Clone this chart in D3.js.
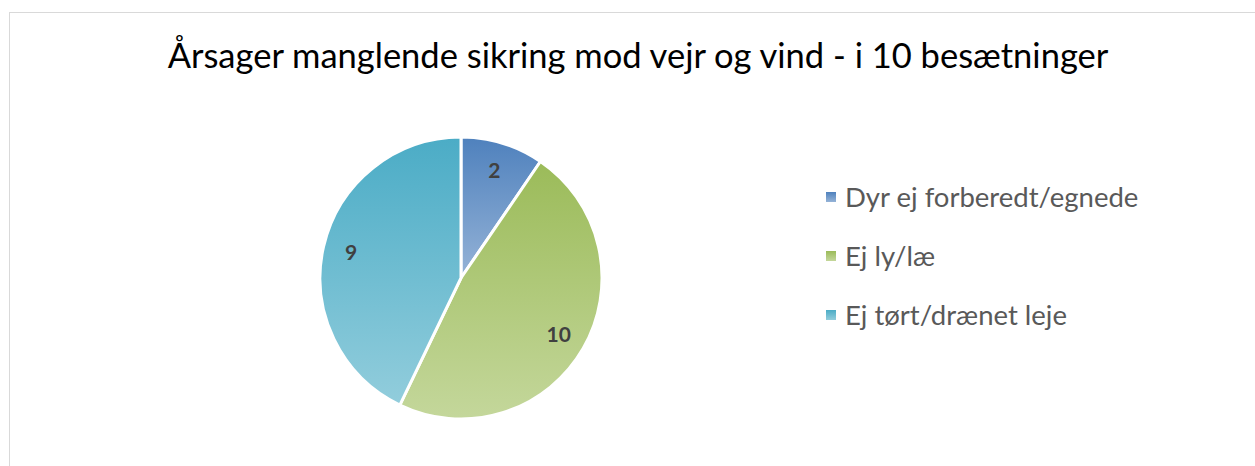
<!DOCTYPE html>
<html>
<head>
<meta charset="utf-8">
<script src="https://cdn.jsdelivr.net/npm/d3@7"></script>
<style>
  body { margin: 0; background: #fff; }
  text { font-family: Lato, "Open Sans", sans-serif; }
</style>
</head>
<body>
<div class="graph"></div>
<script>
var title = "Årsager manglende sikring mod vejr og vind - i 10 besætninger";
var categories = ["Dyr ej forberedt/egnede", "Ej ly/læ", "Ej tørt/drænet leje"];
var values = [2, 10, 9];
var topColors = ["#4f81bd", "#9bbb59", "#4bacc6"];
var bottomColors = ["#95b3d7", "#c4d79b", "#92cddc"];

var width = 1255, height = 466;
var cx = 461, cy = 278, radius = 141;

var svg = d3.select(".graph").append("svg")
    .attr("width", width)
    .attr("height", height);

// chart frame
svg.append("rect")
    .attr("x", 9.5).attr("y", 12.5)
    .attr("width", 1260).attr("height", 470)
    .attr("fill", "#fff")
    .attr("stroke", "#d9d9d9");

svg.append("text")
    .attr("x", 638)
    .attr("y", 68)
    .attr("text-anchor", "middle")
    .style("font-size", "34.5px")
    .style("fill", "#000")
    .text(title);

var defs = svg.append("defs");
categories.forEach(function(c, i) {
  var g = defs.append("linearGradient")
      .attr("id", "grad" + i)
      .attr("x1", 0).attr("y1", 0).attr("x2", 0).attr("y2", 1);
  g.append("stop").attr("offset", "0%").attr("stop-color", topColors[i]);
  g.append("stop").attr("offset", "100%").attr("stop-color", bottomColors[i]);
});

var pie = d3.pie().sort(null).value(function(d) { return d; });
var arc = d3.arc().innerRadius(0).outerRadius(radius);
var labelArc = d3.arc().innerRadius(radius * 0.8).outerRadius(radius * 0.8);

var g = svg.append("g")
    .attr("transform", "translate(" + cx + "," + cy + ")");

g.selectAll(".slice")
    .data(pie(values))
  .enter().append("path")
    .attr("class", "slice")
    .attr("d", arc)
    .attr("fill", function(d, i) { return "url(#grad" + i + ")"; })
    .attr("stroke", "#fff")
    .attr("stroke-width", 3);

g.selectAll(".lbl")
    .data(pie(values))
  .enter().append("text")
    .attr("class", "lbl")
    .attr("transform", function(d) { return "translate(" + labelArc.centroid(d) + ")"; })
    .attr("text-anchor", "middle")
    .attr("dy", ".35em")
    .style("font-size", "21px")
    .style("font-weight", "bold")
    .style("fill", "#404040")
    .text(function(d) { return d.data; });

var legend = svg.selectAll(".legend")
    .data(categories)
  .enter().append("g")
    .attr("class", "legend")
    .attr("transform", function(d, i) { return "translate(826," + (197 + i * 59) + ")"; });

legend.append("rect")
    .attr("x", 0).attr("y", -5)
    .attr("width", 10).attr("height", 10)
    .attr("fill", function(d, i) { return "url(#grad" + i + ")"; });

legend.append("text")
    .attr("x", 19)
    .attr("dy", ".35em")
    .style("font-size", "27.5px")
    .style("fill", "#595959")
    .text(function(d) { return d; });
</script>
</body>
</html>
